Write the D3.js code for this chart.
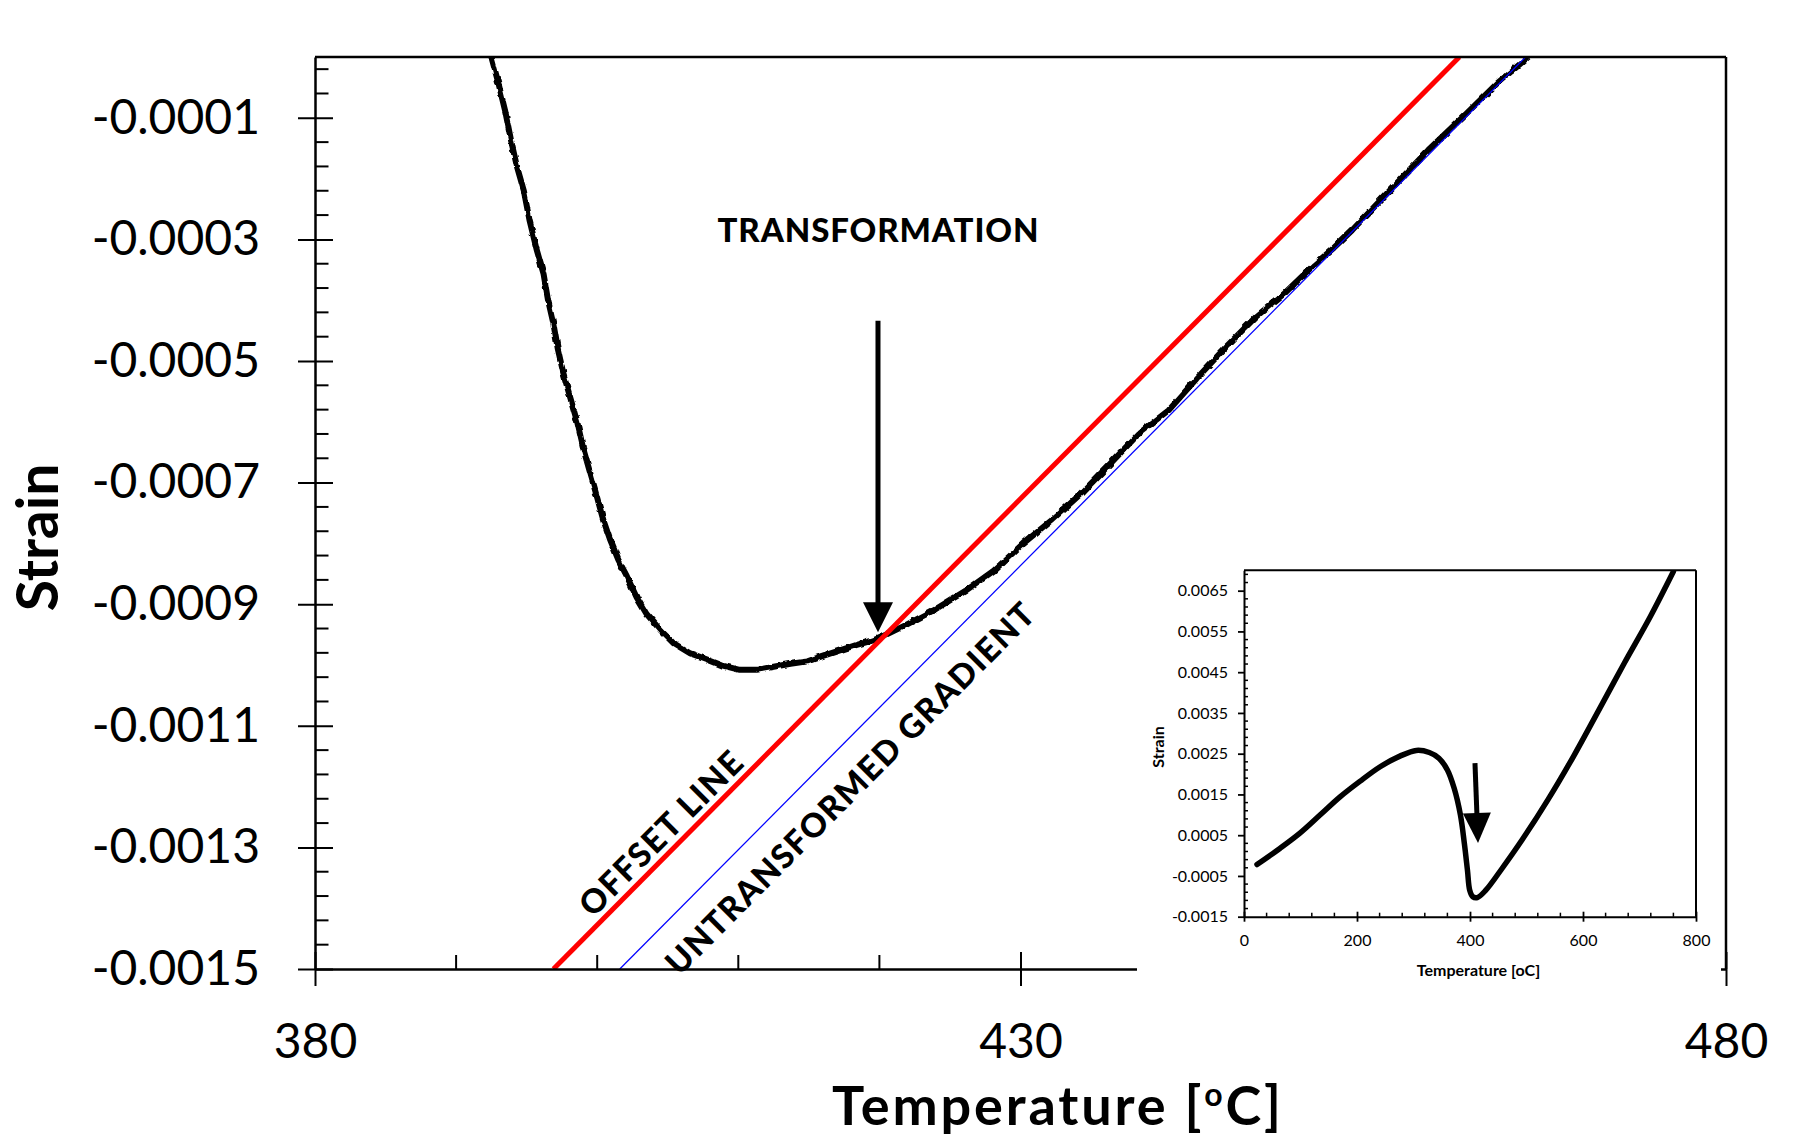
<!DOCTYPE html>
<html><head><meta charset="utf-8">
<script src="https://cdn.jsdelivr.net/npm/d3@7"></script>
<style>
html,body{margin:0;padding:0;background:#fff;}
svg{display:block;font-family:Lato,"Open Sans",sans-serif;}
</style></head><body>
<svg id="chart" width="1798" height="1146"></svg>
<script>
// ---------------- DATA ----------------
// Main chart: dilatometry curve (temperature °C, strain)
const mainT = [392.5,393.0,393.5,393.9,394.3,394.8,395.2,395.7,396.2,396.5,396.9,397.2,397.6,398.1,398.6,399.0,399.5,400.0,400.4,400.9,401.5,402.1,402.8,403.5,404.5,405.4,406.6,407.8,408.9,410.1,411.3,412.5,413.7,414.9,416.0,417.2,418.4,419.5,420.2,421.9,424.0,426.1,428.1,430.2,432.2,434.3,436.4,438.4,440.5,442.6,444.6,446.7,448.7,450.8,452.2,453.5,456.2,458.9,461.6,463.8,466.0];
const mainStrain = [0,-0.000043,-0.000091,-0.000138,-0.000179,-0.00022,-0.000268,-0.000316,-0.000357,-0.000398,-0.000439,-0.000479,-0.00052,-0.000561,-0.000602,-0.000643,-0.000684,-0.000725,-0.000759,-0.000793,-0.000827,-0.000854,-0.000889,-0.000916,-0.000943,-0.000964,-0.000981,-0.000991,-0.001001,-0.001008,-0.001008,-0.001003,-0.000998,-0.000994,-0.000985,-0.000976,-0.000967,-0.00096,-0.000953,-0.000934,-0.000908,-0.000878,-0.000845,-0.0008,-0.000762,-0.000718,-0.000668,-0.000619,-0.000581,-0.000526,-0.000476,-0.000427,-0.000389,-0.000342,-0.000314,-0.000285,-0.000219,-0.000153,-0.000093,-0.000043,0];
// Offset line (red) and untransformed gradient (blue)
const offsetT = [396.9, 461.1];
const offsetStrain = [-0.0015, 0];
const gradientT = [401.6, 465.8];
const gradientStrain = [-0.0015, 0];
// Transformation arrow (main)
const arrowT = [419.9, 419.9];
const arrowStrain = [-0.000434, -0.000946];
// Tick labels (main)
const mainXTicks = [380, 430, 480];
const mainYTicks = [-0.0001, -0.0003, -0.0005, -0.0007, -0.0009, -0.0011, -0.0013, -0.0015];

// Inset: full heating curve
const insetT = [23,64,99,135,170,205,241,276,305,328,345,360,372,383,390,395.5,399.5,405,413,428,454.5,492,537.5,583,628,673,719,760];
const insetStrain = [-0.00022,0.00018,0.00055,0.001,0.00144,0.00182,0.00218,0.00244,0.00258,0.00253,0.00239,0.0021,0.00165,0.001,0.0003,-0.00036,-0.00085,-0.00101,-0.00103,-0.00085,-0.00036,0.00038,0.00136,0.00243,0.00357,0.00472,0.00586,0.00697];
const insetArrowT = [408.8, 414.2];
const insetArrowStrain = [0.00227, 0.00031];
const insetXTicks = [0, 200, 400, 600, 800];
const insetYTicks = [-0.0015, -0.0005, 0.0005, 0.0015, 0.0025, 0.0035, 0.0045, 0.0055, 0.0065];

// ---------------- LAYOUT ----------------
const svg = d3.select('#chart');
const M = {left:315, right:1726, top:57, bottom:969};
const x = d3.scaleLinear().domain([380,480]).range([M.left, M.right]);
const y = d3.scaleLinear().domain([-0.0015,0]).range([M.bottom, M.top]);

const defs = svg.append('defs');
defs.append('clipPath').attr('id','clipMain').append('rect')
  .attr('x',M.left).attr('y',M.top).attr('width',M.right-M.left).attr('height',M.bottom-M.top);
const filt = defs.append('filter').attr('id','jag')
  .attr('x','-5%').attr('y','-5%').attr('width','110%').attr('height','110%');
filt.append('feTurbulence').attr('type','fractalNoise').attr('baseFrequency',0.12)
  .attr('numOctaves',2).attr('seed',7).attr('result','noise');
filt.append('feDisplacementMap').attr('in','SourceGraphic').attr('in2','noise')
  .attr('scale',4).attr('xChannelSelector','R').attr('yChannelSelector','G');

function arrow(g, x1, y1, x2, y2, headLen, headW, lw) {
  const dx = x2-x1, dy = y2-y1, L = Math.hypot(dx,dy), ux = dx/L, uy = dy/L;
  const bx = x2-ux*headLen, by = y2-uy*headLen;
  g.append('line').attr('x1',x1).attr('y1',y1).attr('x2',bx+ux*2).attr('y2',by+uy*2)
    .attr('stroke','#000').attr('stroke-width',lw);
  g.append('path')
    .attr('d',`M${x2},${y2}L${bx-uy*headW/2},${by+ux*headW/2}L${bx+uy*headW/2},${by-ux*headW/2}Z`)
    .attr('fill','#000');
}

// ---------------- MAIN PLOT ----------------
const gPlot = svg.append('g').attr('clip-path','url(#clipMain)');
const lineMain = d3.line().x(d=>x(d[0])).y(d=>y(d[1]));
gPlot.append('path').datum(d3.zip(mainT, mainStrain)).attr('d', lineMain)
  .attr('fill','none').attr('stroke','#000').attr('stroke-width',6)
  .attr('stroke-linejoin','round').attr('filter','url(#jag)');
gPlot.append('path').datum(d3.zip(offsetT, offsetStrain)).attr('d', lineMain)
  .attr('fill','none').attr('stroke','#ff0000').attr('stroke-width',5);
gPlot.append('path').datum(d3.zip(gradientT, gradientStrain)).attr('d', lineMain)
  .attr('fill','none').attr('stroke','#0000ff').attr('stroke-width',1.3);

// Y axis
const gy = svg.append('g').attr('transform',`translate(${M.left},0)`)
  .call(d3.axisLeft(y).tickValues(mainYTicks).tickFormat(d=>d.toFixed(4))
    .tickSize(17).tickSizeOuter(0).tickPadding(38));
gy.attr('font-size',48).attr('font-family','Lato');
gy.select('.domain').attr('stroke-width',2.5);
gy.selectAll('.tick line').attr('x1',18).attr('stroke-width',2);
// minor y ticks
const yMinor = d3.range(-35,3).filter(k=>k%5!==0).map(k=>-0.0001+k*0.00004);
svg.append('g').selectAll('line').data(yMinor).join('line')
  .attr('x1',M.left).attr('x2',M.left+13.5).attr('y1',d=>y(d)).attr('y2',d=>y(d))
  .attr('stroke','#000').attr('stroke-width',2);

// X axis
const gx = svg.append('g').attr('transform',`translate(0,${M.bottom})`)
  .call(d3.axisBottom(x).tickValues(mainXTicks).tickFormat(d=>d)
    .tickSize(17).tickSizeOuter(0).tickPadding(38));
gx.attr('font-size',48).attr('font-family','Lato');
gx.select('.domain').attr('stroke-width',2.5);
gx.selectAll('.tick line').attr('y1',-17).attr('stroke-width',2);
const xMinor = d3.range(380,481,10).filter(v=>!mainXTicks.includes(v));
svg.append('g').selectAll('line').data(xMinor).join('line')
  .attr('x1',d=>x(d)).attr('x2',d=>x(d)).attr('y1',M.bottom).attr('y2',M.bottom-14)
  .attr('stroke','#000').attr('stroke-width',2);

// top and right border
svg.append('line').attr('x1',M.left).attr('x2',M.right).attr('y1',M.top).attr('y2',M.top)
  .attr('stroke','#000').attr('stroke-width',2.5);
svg.append('line').attr('x1',M.right).attr('x2',M.right).attr('y1',M.top).attr('y2',M.bottom)
  .attr('stroke','#000').attr('stroke-width',2.5);

// Axis titles
svg.append('text').attr('transform','translate(58,537.5) rotate(-90)')
  .attr('text-anchor','middle').attr('font-weight',700).attr('font-size',57)
  .attr('font-family','Lato').text('Strain');
const tt = svg.append('text').attr('x',1056.5).attr('y',1125).attr('text-anchor','middle')
  .attr('font-weight',700).attr('font-size',54).attr('font-family','Lato')
  .attr('textLength',449).attr('lengthAdjust','spacing');
tt.append('tspan').text('Temperature [');
tt.append('tspan').attr('font-size',32).attr('dy',-19).text('o');
tt.append('tspan').attr('dy',19).text('C]');

// Annotations
const gAnn = svg.append('g');
arrow(gAnn, x(arrowT[0]), y(arrowStrain[0]), x(arrowT[1]), y(arrowStrain[1]), 30, 30, 5);
gAnn.append('text').attr('x',x(arrowT[0])).attr('y',242).attr('text-anchor','middle')
  .attr('font-weight',900).attr('font-size',33).attr('font-family','Lato')
  .attr('textLength',321).attr('lengthAdjust','spacing').text('TRANSFORMATION');
const ang = Math.atan2(y(offsetStrain[1])-y(offsetStrain[0]), x(offsetT[1])-x(offsetT[0]))*180/Math.PI;
gAnn.append('text').attr('transform',`translate(${x(404.5)},${y(-0.001277)}) rotate(${ang})`)
  .attr('text-anchor','middle').attr('dy','0.36em')
  .attr('font-weight',900).attr('font-size',33).attr('font-family','Lato')
  .attr('textLength',216).attr('lengthAdjust','spacing').text('OFFSET LINE');
gAnn.append('text').attr('transform',`translate(${x(417.9)},${y(-0.001203)}) rotate(${ang})`)
  .attr('text-anchor','middle').attr('dy','0.36em')
  .attr('font-weight',900).attr('font-size',33).attr('font-family','Lato')
  .attr('textLength',507).attr('lengthAdjust','spacing').text('UNTRANSFORMED GRADIENT');

// ---------------- INSET ----------------
svg.append('rect').attr('x',1137).attr('y',545).attr('width',1721-1137).attr('height',990-545)
  .attr('fill','#fff');
const I = {left:1244, right:1696, top:570.3, bottom:916.7};
const xi = d3.scaleLinear().domain([0,800]).range([I.left, I.right]);
const yi = d3.scaleLinear().domain([-0.0015,0.007]).range([I.bottom, I.top]);
defs.append('clipPath').attr('id','clipInset').append('rect')
  .attr('x',I.left).attr('y',I.top).attr('width',I.right-I.left).attr('height',I.bottom-I.top);
const gIn = svg.append('g');
gIn.append('g').attr('clip-path','url(#clipInset)').append('path')
  .datum(d3.zip(insetT, insetStrain))
  .attr('d', d3.line().x(d=>xi(d[0])).y(d=>yi(d[1])).curve(d3.curveCatmullRom.alpha(0.5)))
  .attr('fill','none').attr('stroke','#000').attr('stroke-width',5.5)
  .attr('stroke-linecap','round').attr('stroke-linejoin','round');

const giy = gIn.append('g').attr('transform',`translate(${I.left},0)`)
  .call(d3.axisLeft(yi).tickValues(insetYTicks).tickFormat(d=>d.toFixed(4))
    .tickSize(6).tickSizeOuter(0).tickPadding(10));
giy.attr('font-size',16).attr('font-family','Lato');
giy.select('.domain').attr('stroke-width',2);
giy.selectAll('.tick line').attr('stroke-width',1.8);
const yiMinor = d3.range(0,43).map(k=>-0.0015+k*0.0002).filter(v=>!insetYTicks.some(t=>Math.abs(t-v)<1e-9));
gIn.append('g').selectAll('line').data(yiMinor).join('line')
  .attr('x1',I.left).attr('x2',I.left+4).attr('y1',d=>yi(d)).attr('y2',d=>yi(d))
  .attr('stroke','#000').attr('stroke-width',1.5);

const gix = gIn.append('g').attr('transform',`translate(0,${I.bottom})`)
  .call(d3.axisBottom(xi).tickValues(insetXTicks).tickFormat(d=>d)
    .tickSize(5).tickSizeOuter(0).tickPadding(13.4));
gix.attr('font-size',16).attr('font-family','Lato');
gix.select('.domain').attr('stroke-width',2);
gix.selectAll('.tick line').attr('y1',-5).attr('stroke-width',1.8);
const xiMinor = d3.range(0,801,40).filter(v=>!insetXTicks.includes(v));
gIn.append('g').selectAll('line').data(xiMinor).join('line')
  .attr('x1',d=>xi(d)).attr('x2',d=>xi(d)).attr('y1',I.bottom).attr('y2',I.bottom-4)
  .attr('stroke','#000').attr('stroke-width',1.5);

gIn.append('line').attr('x1',I.left).attr('x2',I.right).attr('y1',I.top).attr('y2',I.top)
  .attr('stroke','#000').attr('stroke-width',2);
gIn.append('line').attr('x1',I.right).attr('x2',I.right).attr('y1',I.top).attr('y2',I.bottom)
  .attr('stroke','#000').attr('stroke-width',2);

gIn.append('text').attr('transform','translate(1163.5,747) rotate(-90)')
  .attr('text-anchor','middle').attr('font-weight',700).attr('font-size',16)
  .attr('font-family','Lato').text('Strain');
gIn.append('text').attr('x',1478.5).attr('y',976).attr('text-anchor','middle')
  .attr('font-weight',700).attr('font-size',16).attr('font-family','Lato')
  .text('Temperature [oC]');

arrow(gIn, xi(insetArrowT[0]), yi(insetArrowStrain[0]), xi(insetArrowT[1]), yi(insetArrowStrain[1]), 30, 28, 5);
</script>
</body></html>
